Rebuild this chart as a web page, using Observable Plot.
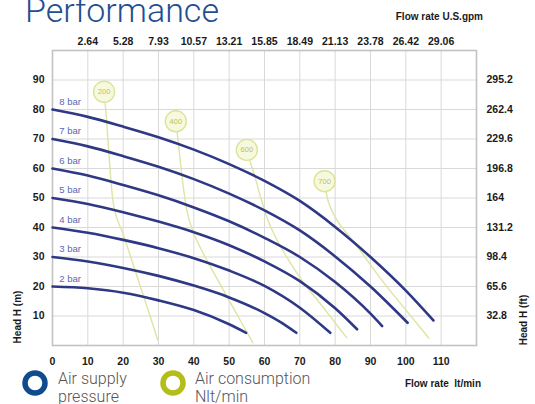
<!DOCTYPE html>
<html>
<head>
<meta charset="utf-8">
<script src="https://cdn.jsdelivr.net/npm/d3@7"></script>
<script src="https://cdn.jsdelivr.net/npm/@observablehq/plot@0.6"></script>
<style>
  html, body { margin: 0; padding: 0; background: #fff; }
  #chart { width: 535px; height: 404px; overflow: hidden; }
  #chart g[aria-label$="tick label"] text { font-weight: 700 !important; }
</style>
</head>
<body>
<div id="chart"></div>
<script>
// Pump performance curves: head (m) vs flow rate (l/min) at each air supply pressure
const bar2 = [[0,20],[10,19.4],[20,17.9],[30,15.3],[40,12],[50,7.2],[54.8,4.3]];
const bar3 = [[0,30],[10,28.5],[20,26.3],[30,23.6],[40,20.3],[50,16.3],[60,11],[65,7.6],[69,4.3]];
const bar4 = [[0,40],[10,38.2],[20,35.8],[30,33],[40,29.6],[50,25.4],[60,20.2],[70,12.8],[78.6,4.3]];
const bar5 = [[0,50],[10,48],[20,45.2],[30,42],[40,38.4],[50,34],[60,28.5],[70,21.8],[80,12.6],[86.2,5.5]];
const bar6 = [[0,60],[10,57.6],[20,54.4],[30,50.9],[40,46.8],[50,42.1],[60,36.5],[70,30],[80,21.5],[90,10.8],[93.3,6.6]];
const bar7 = [[0,70],[10,67.5],[20,64.2],[30,60.6],[40,56.4],[50,51.5],[60,45.8],[70,39],[80,30.2],[90,20],[100.5,7.7]];
const bar8 = [[0,80],[10,77.5],[20,74.2],[30,70.6],[40,66.4],[50,61.5],[60,55.8],[70,49],[80,40.2],[90,30],[100,18.6],[107.8,8.5]];
const pressures = [2, 3, 4, 5, 6, 7, 8];
const pressureCurves = [bar2, bar3, bar4, bar5, bar6, bar7, bar8];

// Air consumption (Nlt/min) iso-lines
const air200 = [[14.6,86],[15.2,78],[15.8,68],[16.4,58],[17,50],[18,44],[19.6,39],[22,30.5],[24.6,21],[27.2,11.5],[29.8,1.8]];
const air400 = [[34.9,76],[35.5,70],[36.3,61],[37.1,53],[38,46],[39.5,39.5],[41.5,34],[43.8,28.7],[46.4,23],[49,17.4],[52,11],[54.8,5],[56.7,1]];
const air600 = [[55,66.3],[56,62],[57.1,58],[58.5,52],[60.5,44],[62.8,37.5],[65.2,32.2],[70,23.1],[76.7,12.8],[83.3,2.6]];
const air700 = [[77,55.7],[77.6,51],[78.6,47],[80.5,42.5],[84,37],[87.1,32.2],[90.5,26.5],[94.8,19.7],[99,13.5],[103.3,7.2],[106.5,2.5]];
const airLevels = [200, 400, 600, 700];
const airCurves = [air200, air400, air600, air700];

// Axis ticks and secondary-unit labels
const flowTicks = [0,10,20,30,40,50,60,70,80,90,100,110];
const gpmTicks = [10,20,30,40,50,60,70,80,90,100,110];
const gpmLabels = ["2.64","5.28","7.93","10.57","13.21","15.85","18.49","21.13","23.78","26.42","29.06"];
const headTicks = [10,20,30,40,50,60,70,80,90];
const feetLabels = ["32.8","65.6","98.4","131.2","164","196.8","229.6","262.4","295.2"];

const pressureRows = pressures.flatMap((p, i) => pressureCurves[i].map(([q, h]) => ({bar: p, q, h})));
const airRows = airLevels.flatMap((a, i) => airCurves[i].map(([q, h]) => ({air: a, q, h})));
const airTags = airLevels.map((a, i) => ({air: a, q: airCurves[i][0][0], h: airCurves[i][0][1]}));
const barTags = pressures.map(p => ({label: `${p} bar`, q: 1.9, h: p * 10 + 2.6}));

const gpmMap = new Map(gpmTicks.map((t, i) => [t, gpmLabels[i]]));
const feetMap = new Map(headTicks.map((t, i) => [t, feetLabels[i]]));

const tickStyle = {tickSize: 0, fontWeight: "bold", fontSize: 10.5, fill: "#1a1a1a", label: null};

const plot = Plot.plot({
  width: 535,
  height: 404,
  marginLeft: 52,
  marginRight: 59,
  marginTop: 50,
  marginBottom: 59,
  x: {domain: [0, 120]},
  y: {domain: [0, 100]},
  style: {fontFamily: "'Liberation Sans', Arial, sans-serif", background: "#fff", overflow: "visible"},
  marks: [
    Plot.gridX(d3.range(0, 121, 10), {stroke: "#d9d9d9", strokeOpacity: 1, strokeWidth: 1}),
    Plot.gridY(d3.range(0, 101, 10), {stroke: "#d9d9d9", strokeOpacity: 1, strokeWidth: 1}),
    Plot.frame({stroke: "#c2c2c2", strokeWidth: 1.6}),
    Plot.axisX(flowTicks, {...tickStyle, anchor: "bottom", tickPadding: 12}),
    Plot.axisX(gpmTicks, {...tickStyle, anchor: "top", tickPadding: 6, tickFormat: d => gpmMap.get(d)}),
    Plot.axisY(headTicks, {...tickStyle, anchor: "left", tickPadding: 8}),
    Plot.axisY(headTicks, {...tickStyle, anchor: "right", tickPadding: 10, tickFormat: d => feetMap.get(d)}),
    Plot.line(airRows, {x: "q", y: "h", z: "air", stroke: "#dfe4a2", strokeWidth: 1.4, curve: "monotone-x"}),
    Plot.line(pressureRows, {x: "q", y: "h", z: "bar", stroke: "#2e3884", strokeWidth: 2.6, curve: "monotone-x"}),
    Plot.dot(airTags, {x: "q", y: "h", r: 10.5, fill: "#f7f9de", stroke: "#dde49a", strokeWidth: 1.4}),
    Plot.text(airTags, {x: "q", y: "h", text: d => String(d.air), fill: "#b9c35a", fontSize: 7.5}),
    Plot.text(barTags, {x: "q", y: "h", text: "label", textAnchor: "start", fill: "#5868b0", fontSize: 9.5})
  ]
});

document.getElementById("chart").appendChild(plot);

const svg = d3.select(plot);

// Title, axis titles and legend
const add = (x, y, text, attrs) => {
  const t = svg.append("text").attr("x", x).attr("y", y).attr("text-anchor", "start").text(text);
  Object.entries(attrs).forEach(([k, v]) => t.attr(k, v));
  return t;
};
const boldSmall = {"font-family": "'Liberation Sans', Arial, sans-serif", "font-weight": "bold", "font-size": 10, fill: "#1a1a1a"};
const light = {"font-family": "Roboto, 'Liberation Sans', sans-serif", "font-weight": 300, fill: "#555", "font-size": 16};

add(25, 22, "Performance", {"font-family": "Roboto, 'Liberation Sans', sans-serif", "font-weight": 300, "font-size": 34, fill: "#1f4f8f"});
add(483, 20, "Flow rate U.S.gpm", {...boldSmall, "text-anchor": "end"});
add(481, 387, "Flow rate  lt/min", {...boldSmall, "text-anchor": "end", style: "white-space: pre"});
add(0, 0, "Head H (m)", {...boldSmall, "text-anchor": "middle", transform: "translate(21,317) rotate(-90)"});
add(0, 0, "Head H (ft)", {...boldSmall, "text-anchor": "middle", transform: "translate(527,320) rotate(-90)"});

svg.append("circle").attr("cx", 35).attr("cy", 383).attr("r", 10).attr("fill", "none").attr("stroke", "#0f4c8e").attr("stroke-width", 5.5);
svg.append("circle").attr("cx", 173).attr("cy", 383).attr("r", 10).attr("fill", "none").attr("stroke", "#b4be1a").attr("stroke-width", 5.5);
add(58, 384, "Air supply", light);
add(58, 402, "pressure", light);
add(195, 384, "Air consumption", light);
add(195, 402, "Nlt/min", light);
</script>
</body>
</html>
